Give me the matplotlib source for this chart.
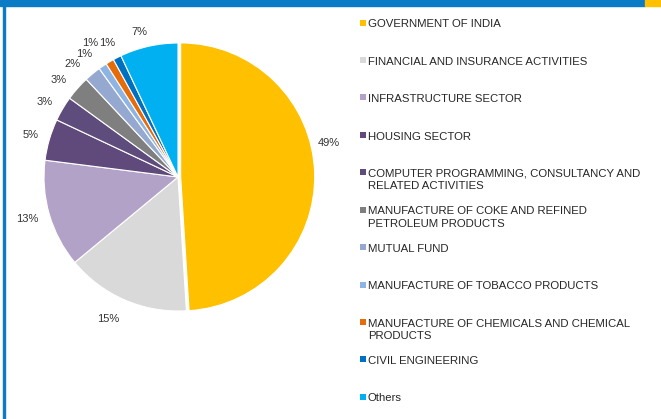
import matplotlib.pyplot as plt
from matplotlib.patches import Rectangle

plt.rcParams['font.family'] = ['Liberation Sans', 'DejaVu Sans']

# sector allocation (% of portfolio)
sectors = [
    "GOVERNMENT OF INDIA",
    "FINANCIAL AND INSURANCE ACTIVITIES",
    "INFRASTRUCTURE SECTOR",
    "HOUSING SECTOR",
    "COMPUTER PROGRAMMING, CONSULTANCY AND\nRELATED ACTIVITIES",
    "MANUFACTURE OF COKE AND REFINED\nPETROLEUM PRODUCTS",
    "MUTUAL FUND",
    "MANUFACTURE OF TOBACCO PRODUCTS",
    "MANUFACTURE OF CHEMICALS AND CHEMICAL\nPRODUCTS",
    "CIVIL ENGINEERING",
    "Others",
]
shares = [49, 15, 13, 5, 3, 3, 2, 1, 1, 1, 7]
colors = ["#FFC000", "#D9D9D9", "#B3A2C7", "#604A7B", "#5E4C7C", "#7F7F7F",
          "#95A9D0", "#8EB4E3", "#E46C0A", "#0070C0", "#00B0F0"]
explode = [0.02] + [0] * 10
# small pixel nudges so the % labels sit where the original put them
label_nudge = [(-6, -29), (-9, 1), (-3, -1), (1, 1), (-1, 3), (-4, 5),
               (-7, 6), (-7, 4), (-9, -1), (-1, 3), (-5, 5)]

W, H = 661, 419
fig = plt.figure(figsize=(W / 100, H / 100), dpi=100)

# frame: header bar and left edge
fig.patches.append(Rectangle((0, 1 - 6.5 / H), 645 / W, 6.5 / H,
                             transform=fig.transFigure, color="#0A7BC4", zorder=0))
fig.patches.append(Rectangle((645 / W, 1 - 6.5 / H), 16 / W, 6.5 / H,
                             transform=fig.transFigure, color="#FFC000", zorder=0))
fig.patches.append(Rectangle((2.5 / W, 0), 2.5 / W, 1,
                             transform=fig.transFigure, color="#0A7BC4", zorder=0))

# pie: centre (178, 177) px, radius 134 px -> axes 2.5 * r wide
cx, cy, r = 178, 177, 134
side = 2.5 * r
ax = fig.add_axes([(cx - side / 2) / W, (H - cy - side / 2) / H, side / W, side / H])
wedges, texts, autotexts = ax.pie(
    shares, colors=colors, startangle=90, counterclock=False, explode=explode,
    autopct="%d%%", pctdistance=1.15,
    wedgeprops=dict(edgecolor="white", linewidth=0.8),
    textprops=dict(fontsize=8, color="#333333"))
for t, (dx, dy) in zip(autotexts, label_nudge):
    x0, y0 = t.get_position()
    t.set_position((x0 + dx / r, y0 - dy / r))

# legend column
lax = fig.add_axes([355 / W, 3.6 / H, 306 / W, 411.4 / H])
lax.set_xlim(0, 306)
lax.set_ylim(len(sectors) - 0.5, -0.5)
lax.axis("off")
for i, (name, c) in enumerate(zip(sectors, colors)):
    lax.scatter(8, i, marker="s", s=19, color=c, linewidths=0)
    lax.text(13, i - 0.09, name, fontsize=8.2, color="#262626", va="top",
             ha="left", linespacing=1.3)

fig.savefig("out.png", dpi=100)
